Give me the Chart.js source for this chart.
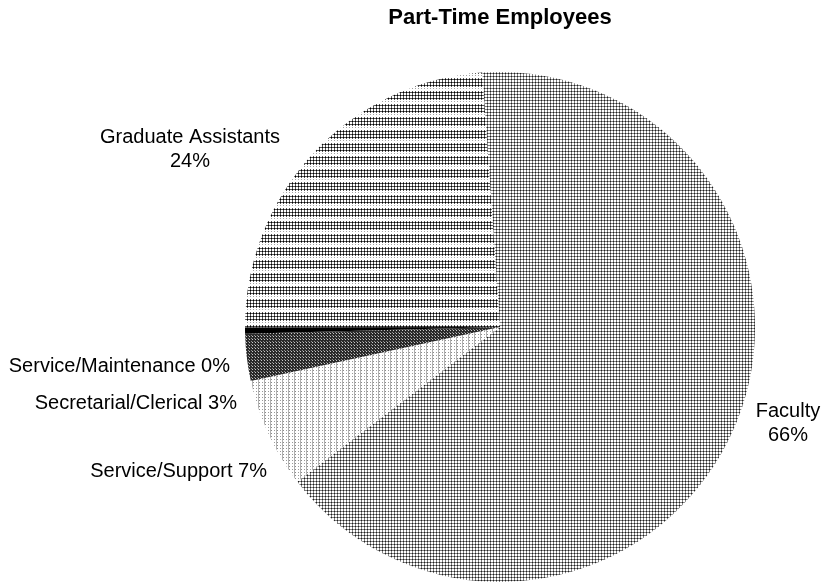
<!DOCTYPE html>
<html>
<head>
<meta charset="utf-8">
<title>Part-Time Employees</title>
<script src="https://cdn.jsdelivr.net/npm/chart.js@4.4.1/dist/chart.umd.min.js"></script>
<style>
  html, body { margin: 0; padding: 0; background: #fff; }
  #wrap { width: 822px; height: 583px; }
</style>
</head>
<body>
<div id="wrap"><canvas id="staffPie" width="822" height="583"></canvas></div>
<script>
// Part-time staff by category (percent of head count)
const categories = ['Faculty', 'Service/Support', 'Secretarial/Clerical', 'Service/Maintenance', 'Graduate Assistants'];
const shares = [66, 7, 3, 0.4, 24];

const canvas = document.getElementById('staffPie');
const ctx = canvas.getContext('2d');

// small bitmap tiles, repeated as fills (printed b/w look)
function tile(w, h, paint) {
  const c = document.createElement('canvas');
  c.width = w;
  c.height = h;
  const g = c.getContext('2d');
  g.fillStyle = '#fff';
  g.fillRect(0, 0, w, h);
  paint((x, y, col) => { g.fillStyle = col; g.fillRect(x, y, 1, 1); });
  return ctx.createPattern(c, 'repeat');
}

function cross(px, ox, oy, dark, arm) {
  px(ox + 1, oy + 1, dark);
  px(ox + 1, oy, arm);
  px(ox, oy + 1, arm);
  px(ox + 2, oy + 1, arm);
  px(ox + 1, oy + 2, arm);
}

const fills = [
  // Faculty: fine even screen
  tile(3, 3, px => cross(px, 0, 0, '#1e1e1e', '#808080')),
  // Service/Support: light dots with faint vertical rules
  tile(6, 3, px => {
    px(1, 1, '#8a8a8a');
    px(4, 1, '#9a9a9a');
    px(0, 0, '#b0b0b0');
    px(0, 1, '#b0b0b0');
    px(0, 2, '#b0b0b0');
  }),
  // Secretarial/Clerical: dark check
  tile(3, 3, px => {
    for (let y = 0; y < 3; y++) for (let x = 0; x < 3; x++) px(x, y, '#2a2a2a');
    px(0, 0, '#c8c8c8');
    px(2, 2, '#8c8c8c');
  }),
  // Service/Maintenance: solid
  '#000',
  // Graduate Assistants: screen broken into horizontal bands
  tile(3, 13, px => {
    for (let r = 0; r < 3; r++) cross(px, 0, r * 3, '#000', '#555');
    px(1, 10, '#a0a0a0');
  })
];

const total = shares.reduce((a, b) => a + b, 0);
const pct = v => Math.round(v / total * 100) + '%';

// where each category label sits, and how it is broken into lines
const labelLayout = [
  { x: 788, y: 417, align: 'center', lines: i => [categories[i], pct(shares[i])] },
  { x: 267, y: 477, align: 'right', lines: i => [categories[i] + ' ' + pct(shares[i])] },
  { x: 237, y: 409, align: 'right', lines: i => [categories[i] + ' ' + pct(shares[i])] },
  { x: 230, y: 372, align: 'right', lines: i => [categories[i] + ' ' + pct(shares[i])] },
  { x: 190, y: 143, align: 'center', lines: i => [categories[i], pct(shares[i])] }
];

const sliceLabels = {
  id: 'sliceLabels',
  afterDatasetsDraw(chart) {
    const c = chart.ctx;
    c.save();
    c.font = '20px "Liberation Sans", Arial, sans-serif';
    c.fillStyle = '#000';
    c.textBaseline = 'alphabetic';
    chart.getDatasetMeta(0).data.forEach((arc, i) => {
      const l = labelLayout[i];
      c.textAlign = l.align;
      l.lines(i).forEach((t, k) => c.fillText(t, l.x, l.y + k * 24));
    });
    c.restore();
  }
};

new Chart(ctx, {
  type: 'pie',
  data: {
    labels: categories,
    datasets: [{
      data: shares,
      backgroundColor: fills,
      borderWidth: 0
    }]
  },
  options: {
    responsive: false,
    animation: false,
    rotation: -4,
    layout: { padding: { top: 0, left: 245, right: 67, bottom: 1 } },
    plugins: {
      legend: { display: false },
      tooltip: { enabled: false },
      title: {
        display: true,
        text: 'Part-Time Employees',
        color: '#000',
        font: { family: '"Liberation Sans", Arial, sans-serif', size: 22, weight: 'bold', lineHeight: 1.2 },
        padding: { top: 5, bottom: 40.6 }
      }
    }
  },
  plugins: [sliceLabels]
});
</script>
</body>
</html>
